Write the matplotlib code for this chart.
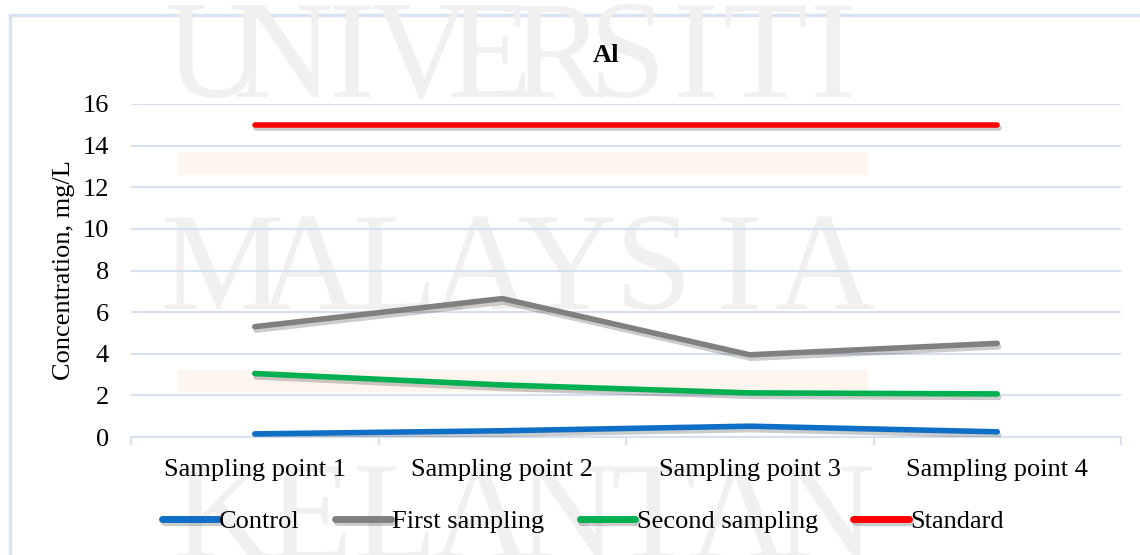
import matplotlib
matplotlib.use("Agg")
import matplotlib.pyplot as plt
import matplotlib.patheffects as pe
from matplotlib.patches import Rectangle
import numpy as np

plt.rcParams['font.family'] = ['Liberation Serif', 'DejaVu Serif']

# Al concentration at each sampling point (mg/L)
points = ["Sampling point 1", "Sampling point 2", "Sampling point 3", "Sampling point 4"]
control = [0.15, 0.3, 0.52, 0.25]
first_sampling = [5.3, 6.65, 3.95, 4.5]
second_sampling = [3.05, 2.5, 2.12, 2.07]
standard = [15, 15, 15, 15]

series = [
    ("Control", control, "#0F6FC6"),
    ("First sampling", first_sampling, "#808080"),
    ("Second sampling", second_sampling, "#00B050"),
    ("Standard", standard, "#FF0000"),
]

W, H = 1140, 555
fig = plt.figure(figsize=(W / 100, H / 100), dpi=100)

# chart frame
fig.patches.append(Rectangle((10 / W, -0.1), 1.2, 1 - 15 / H + 0.1, transform=fig.transFigure,
                             fill=False, edgecolor="#D9E3F3", linewidth=2.5, zorder=0.2))

# faint watermark behind the plot
wm_color = "#F0F0F0"
for word, base in [("UNIVERSITI", 97), ("MALAYSIA", 309), ("KELANTAN", 558)]:
    n = len(word)
    slot = (868 - 180) / n
    for i, ch in enumerate(word):
        fig.text((180 + slot * (i + 0.5)) / W, 1 - base / H, ch, ha="center", va="baseline",
                 fontsize=100, color=wm_color, zorder=0.3)
for top, bot in [(152, 175), (370, 392)]:
    fig.patches.append(Rectangle((177 / W, 1 - bot / H), (868 - 177) / W, (bot - top) / H,
                                 transform=fig.transFigure, facecolor="#FEF5EE",
                                 edgecolor="none", zorder=0.35))

ax = fig.add_axes([131 / W, 1 - 437 / H, (1121 - 131) / W, (437 - 104) / H])
ax.set_facecolor("none")
ax.set_zorder(1)

x = np.arange(len(points))
for name, vals, color in series:
    ax.plot(x, vals, color=color, linewidth=4, solid_capstyle="round", label=name,
            path_effects=[pe.SimpleLineShadow(offset=(1, -2.5), shadow_color="black", alpha=0.2),
                          pe.Normal()], zorder=3)

ax.set_xlim(-0.5, len(points) - 0.5)
ax.set_ylim(0, 16)
ax.set_yticks(range(0, 17, 2))
ax.set_xticks(x)
ax.set_xticklabels(points)
ax.set_xticks(np.arange(-0.5, len(points)), minor=True)

grid_color = "#D6E0F0"
ax.yaxis.grid(True, color=grid_color, linewidth=1.5)
ax.set_axisbelow(True)
for side in ["top", "right", "left"]:
    ax.spines[side].set_visible(False)
ax.spines["bottom"].set_color(grid_color)
ax.spines["bottom"].set_linewidth(1.5)

ax.tick_params(axis="y", length=0, pad=16, labelsize=19)
ax.tick_params(axis="x", which="major", length=0, pad=16, labelsize=19)
ax.tick_params(axis="x", which="minor", length=6, width=1.5, color=grid_color)

ax.set_ylabel("Concentration, mg/L", fontsize=19, labelpad=5)
fig.text(606 / W, 1 - 55 / H, "Al", ha="center", va="center", fontsize=19, fontweight="bold")

leg = fig.legend(loc="center", bbox_to_anchor=(583 / W, 1 - 521 / H), ncol=4, frameon=False,
                 fontsize=19, handlelength=2.1, handletextpad=0.05, columnspacing=1.35)
for line in leg.get_lines():
    line.set_linewidth(5)
    line.set_solid_capstyle("round")

fig.savefig("out.png", dpi=100)
